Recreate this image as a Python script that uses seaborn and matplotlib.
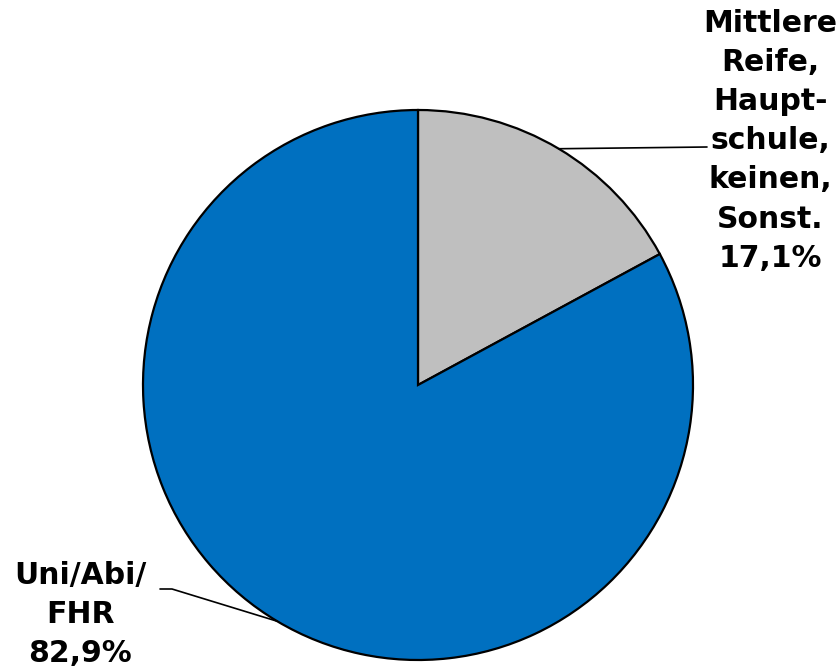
import numpy as np
import matplotlib
matplotlib.use("Agg")
import matplotlib.pyplot as plt
import seaborn as sns

categories = ["Mittlere\nReife,\nHaupt-\nschule,\nkeinen,\nSonst.", "Uni/Abi/\nFHR"]
values = [17.1, 82.9]
value_labels = ["17,1%", "82,9%"]
colors = ["#BFBFBF", "#0070C0"]

sns.set_theme(style="white")
plt.rcParams["font.family"] = ["DejaVu Sans"]

W, H = 838, 670
fig = plt.figure(figsize=(W / 100, H / 100), dpi=100)
ax = fig.add_axes([0, 0, 1, 1])

cx, cy, r = 418, H - 385, 275
wedges, _ = ax.pie(values, colors=colors, startangle=90, counterclock=False,
                   center=(cx, cy), radius=r, frame=True,
                   wedgeprops=dict(edgecolor="black", linewidth=1.6))
ax.set_xlim(0, W)
ax.set_ylim(0, H)
ax.set_aspect("equal")
ax.axis("off")

def edge_point(w):
    ang = np.deg2rad((w.theta1 + w.theta2) / 2)
    return cx + r * np.cos(ang), cy + r * np.sin(ang)

fs = 21.5
ls = 1.44
# right label
ax.text(770, H - 9, categories[0] + "\n" + value_labels[0], ha="center", va="top",
        fontsize=fs, fontweight="bold", linespacing=ls, color="black")
px, py = edge_point(wedges[0])
ax.plot([px, 707], [py, H - 147], color="black", lw=1.2)

# left label
ax.text(80, H - 561, categories[1] + "\n" + value_labels[1], ha="center", va="top",
        fontsize=fs, fontweight="bold", linespacing=ls, color="black")
px, py = edge_point(wedges[1])
ax.plot([160, 172, px], [H - 589, H - 589, py], color="black", lw=1.2)

fig.savefig("out.png", dpi=100)
